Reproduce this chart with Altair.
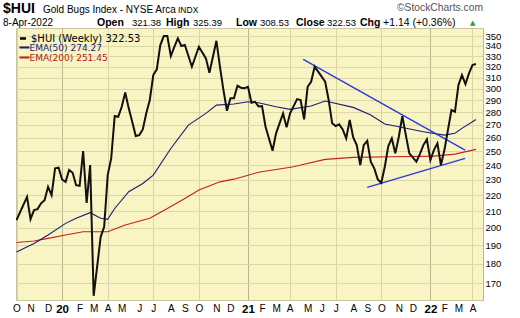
import altair as alt
import pandas as pd

# ---------------- data ----------------
# weekly closes: week index counted from 2019-10-04 (Fridays)
hui_week = [0, 3, 4, 5, 6, 7, 8, 9, 10, 11, 12, 13, 14, 15, 16, 17, 18, 19, 20, 21, 22,
            24, 25, 26, 27, 28, 29, 30, 31, 32, 33, 34, 35, 36, 37, 38, 39, 40, 41, 42, 43,
            44, 45, 46, 47, 48, 50, 52, 54, 55, 57, 58, 59, 60, 61, 62, 63, 64, 65, 66, 67,
            68, 69, 70, 71, 73, 74, 76, 77, 78, 80, 81, 82, 83, 84, 85, 86, 88, 89, 90, 91,
            92, 93, 94, 95, 96, 97, 98, 99, 100, 101, 102, 103, 104, 105, 106, 107, 108, 109,
            110, 111, 112, 114, 115, 116, 117, 118, 119, 120, 121, 122, 123, 124, 125, 126,
            127, 128, 129, 130, 131]
hui_close = [204.5, 218.9, 205.1, 210.6, 211.2, 214.8, 216.8, 225.4, 220.0, 237.9, 238.3,
             230.3, 228.7, 236.7, 234.8, 226.5, 226.1, 250.2, 215.1, 240.2, 164.0,
             194.8, 200.6, 233.2, 244.9, 277.1, 276.5, 284.7, 296.9, 283.4, 272.5, 261.4,
             262.1, 266.5, 279.3, 290.4, 312.3, 317.6, 340.9, 350.0, 350.0, 330.2, 339.2,
             347.7, 339.9, 340.9, 320.0, 339.2, 327.9, 314.5, 345.2, 320.0, 298.9, 281.4,
             291.8, 291.8, 302.7, 301.0, 300.5, 301.8, 288.1, 288.9, 285.0, 285.3, 268.6,
             250.4, 263.5, 279.3, 268.1, 279.3, 291.2, 290.4, 274.4, 301.8, 306.3, 320.0,
             315.4, 306.3, 290.4, 271.3, 269.1, 270.5, 266.5, 259.6, 273.9, 260.4, 254.6,
             240.2, 254.6, 257.8, 242.5, 237.9, 230.3, 228.1, 239.0, 253.9, 259.6, 248.5,
             260.9, 277.1, 262.1, 248.5, 242.5, 248.0, 254.6, 258.9, 243.7, 250.9, 255.9,
             240.2, 250.9, 266.0, 282.0, 280.6, 303.3, 312.3, 304.2, 313.9, 321.6, 322.53]

ema50_week = [0, 5, 9, 14, 17, 21, 24, 26, 28, 32, 36, 39, 44, 49, 54, 57, 62, 66, 69, 74,
              78, 84, 88, 96, 101, 105, 109, 116, 122, 125, 127, 131]
ema50_value = [186.4, 191.1, 195.8, 202.6, 205.6, 209.0, 205.6, 205.0, 211.6, 222.2, 227.6,
               233.2, 252.1, 269.9, 279.3, 286.1, 287.0, 288.9, 288.1, 284.7, 282.6, 285.3,
               289.5, 284.2, 277.9, 270.7, 268.6, 264.7, 262.1, 263.5, 267.3, 274.27]

ema200_week = [0, 5, 9, 14, 19, 24, 26, 31, 38, 43, 48, 52, 58, 62, 69, 79, 82, 88, 96, 107,
               119, 125, 131]
ema200_value = [191.6, 192.4, 193.9, 195.8, 197.7, 197.7, 197.7, 201.6, 205.6, 211.6, 217.9,
                223.3, 228.7, 230.5, 235.2, 239.0, 240.7, 244.2, 245.6, 246.1, 246.5, 248.0,
                251.45]

trend_id = ["upper", "upper", "lower", "lower"]
trend_week = [81.75, 127.9, 100.0, 127.9]
trend_value = [327.0, 250.9, 225.0, 244.9]

y_ticks = [170, 180, 190, 200, 210, 220, 230, 240, 250, 260, 270, 280, 290, 300,
           310, 320, 330, 340, 350]
month_ticks = ["2019-10-04", "2019-11-01", "2019-12-06", "2020-01-03", "2020-02-07",
               "2020-03-06", "2020-04-03", "2020-05-01", "2020-06-05", "2020-07-03",
               "2020-08-07", "2020-09-04", "2020-10-02", "2020-11-06", "2020-12-04",
               "2021-01-08", "2021-02-05", "2021-03-05", "2021-04-01", "2021-05-07",
               "2021-06-04", "2021-07-02", "2021-08-06", "2021-09-03", "2021-10-01",
               "2021-11-05", "2021-12-03", "2022-01-07", "2022-02-04", "2022-03-04",
               "2022-04-01"]

# ---------------- build tables ----------------
base = pd.Timestamp("2019-10-04")


def wk(ws):
    return [base + pd.Timedelta(days=7 * w) for w in ws]


hui_df = pd.DataFrame({"date": wk(hui_week), "value": hui_close})
ema50_df = pd.DataFrame({"date": wk(ema50_week), "value": ema50_value})
ema200_df = pd.DataFrame({"date": wk(ema200_week), "value": ema200_value})
trend_df = pd.DataFrame({"date": wk(trend_week), "value": trend_value, "line": trend_id})


def dt(s):
    t = pd.Timestamp(s)
    return alt.DateTime(year=t.year, month=t.month, date=t.day)


x_scale = alt.Scale(domain=[dt("2019-10-03"), dt("2022-04-22")])
y_scale = alt.Scale(type="log", domain=[162, 358.3], nice=False)

is_jan = "month(datum.value) == 0"
x_axis = alt.Axis(
    values=[dt(s) for s in month_ticks],
    labelExpr="month(datum.value) == 0 ? timeFormat(datum.value, '%y') : slice(timeFormat(datum.value, '%b'), 0, 1)",
    title=None, ticks=False, domain=False, labelFlush=False, labelOverlap=False,
    labelPadding=3, labelFont="Liberation Sans", labelColor="#000000",
    labelFontSize={"condition": {"test": is_jan, "value": 11.5}, "value": 10},
    labelFontWeight={"condition": {"test": is_jan, "value": "bold"}, "value": "normal"},
    grid=True,
    gridColor={"condition": {"test": is_jan, "value": "#b9b48c"}, "value": "#d9d4a2"},
    gridOpacity={"condition": {"test": "month(datum.value) % 3 == 0", "value": 1}, "value": 0},
)
y_axis = alt.Axis(
    orient="right", values=y_ticks, format="d", title=None, ticks=False,
    domain=True, domainDash=[1, 2], domainColor="#9a9a9a",
    labelFont="Liberation Sans", labelFontSize=9.5, labelPadding=2, labelColor="#000000",
    labelFlush=False, labelOverlap=False, grid=True, gridColor="#ddd8a6",
)

X = alt.X("date:T", scale=x_scale, axis=x_axis)
Y = alt.Y("value:Q", scale=y_scale, axis=y_axis)

ema200_line = alt.Chart(ema200_df).mark_line(color="#c42020", strokeWidth=1.1, clip=True).encode(x=X, y=Y)
ema50_line = alt.Chart(ema50_df).mark_line(color="#1c1c78", strokeWidth=1.1, clip=True).encode(x=X, y=Y)
trend_lines = alt.Chart(trend_df).mark_line(color="#2b3bd4", strokeWidth=1.4, clip=True).encode(
    x=X, y=Y, detail="line:N")
price_line = alt.Chart(hui_df).mark_line(color="#111111", strokeWidth=2, clip=True).encode(x=X, y=Y)

# ---------------- text & legend ----------------
L, T = 16, 28  # plot origin in page pixels
dummy = pd.DataFrame({"k": [0]})


def txt(s, x, y, size, weight="normal", color="#000000", font="Liberation Sans", baseline="alphabetic"):
    return alt.Chart(dummy).mark_text(
        text=s, align="left", baseline=baseline, font=font, fontSize=size,
        fontWeight=weight, color=color,
    ).encode(x=alt.value(x - L), y=alt.value(y - T))


def swatch(x1, x2, y, color, w):
    return alt.Chart(dummy).mark_rule(color=color, strokeWidth=w).encode(
        x=alt.value(x1 - L), x2=alt.value(x2 - L), y=alt.value(y - T))


Y1, Y2 = 12.5, 25.8  # baselines of the two header lines
texts = [
    txt("$HUI", 3, Y1, 14, "bold"),
    txt("Gold Bugs Index - NYSE Arca", 43, Y1, 10),
    txt("INDX", 178, Y1, 8.5),
    txt("\u00a9StockCharts.com", 397, 11, 10.3, color="#555555"),
    txt("8-Apr-2022", 3, Y2, 10),
    txt("Open", 97, Y2, 10.5, "bold"),
    txt("321.38", 132, Y2, 9.5),
    txt("High", 166, Y2, 10.5, "bold"),
    txt("325.39", 193, Y2, 9.5),
    txt("Low", 236, Y2, 10.5, "bold"),
    txt("308.53", 260, Y2, 9.5),
    txt("Close", 296, Y2, 10.5, "bold"),
    txt("322.53", 327, Y2, 9.5),
    txt("Chg", 360, Y2, 10.5, "bold"),
    txt("+1.14 (+0.36%)", 383, Y2, 10.5),
    txt("\u25b2", 470, Y2 - 1, 7, color="#2a9d2a", font="DejaVu Sans"),
    swatch(20, 26, 38.5, "#000000", 2.5),
    txt("$HUI (Weekly) 322.53", 31, 38.5, 10, font="DejaVu Sans", baseline="middle"),
    swatch(19.5, 29.5, 47.5, "#1c1c78", 2),
    txt("EMA(50) 274.27", 29.5, 47.5, 9, color="#1c1c78", font="DejaVu Sans", baseline="middle"),
    swatch(19.5, 29.5, 57.5, "#c42020", 2),
    txt("EMA(200) 251.45", 29.5, 57.5, 9, color="#b01818", font="DejaVu Sans", baseline="middle"),
]

chart = alt.layer(ema200_line, ema50_line, trend_lines, price_line, *texts).properties(
    width=467, height=272,
    padding={"left": L, "top": T, "right": 37, "bottom": 18},
    autosize=alt.AutoSizeParams(type="none"),
    background="white",
).configure_view(fill="#f8f4c4", stroke="#c9c5a0", strokeWidth=1)

chart.save("out.html", embed_options={"renderer": "svg", "actions": False})
